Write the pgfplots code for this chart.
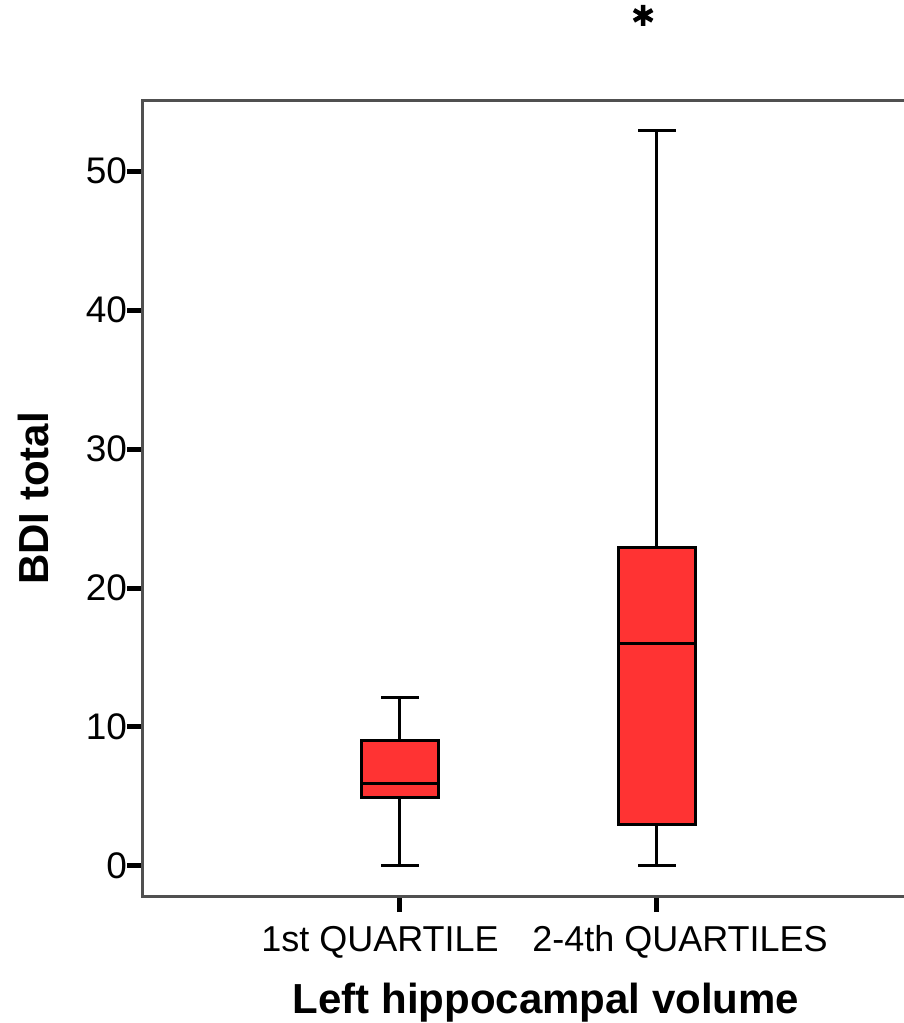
\documentclass[border=0pt]{standalone}
\usepackage{pgfplots}
\pgfplotsset{compat=1.18}
\usepgfplotslibrary{statistics}
\usepackage{fontspec}
\setmainfont{Liberation Sans}
\definecolor{boxred}{RGB}{255,51,51}
\definecolor{framegray}{RGB}{80,80,80}
\begin{document}
\begin{tikzpicture}
\begin{axis}[
  at={(0,0)}, anchor=south west,
  scale only axis,
  width=385.5pt, height=397.5pt,
  xmin=0, xmax=3,
  ymin=-2.16, ymax=55.04,
  clip=false,
  boxplot/draw direction=y,
  boxplot/every box/.style={draw=black, line width=1.5pt, fill=boxred},
  boxplot/every whisker/.style={draw=black, line width=1.5pt},
  boxplot/every median/.style={draw=black, line width=1.5pt},
  axis line style={draw=framegray, line width=1.5pt},
  tick align=outside,
  xtick pos=bottom, ytick pos=left,
  major tick length=8pt,
  tick style={black, line width=2.5pt},
  xtick={1,2},
  xticklabels={{\hspace*{-20pt}1st QUARTILE},{\hspace*{23pt}2-4th QUARTILES}},
  ytick={0,10,20,30,40,50},
  /pgf/number format/assume math mode=true,
  xticklabel style={anchor=base, yshift=-19.5pt, font=\fontsize{18}{20}\selectfont},
  yticklabel style={anchor=east, xshift=3.5pt, font=\fontsize{18.5}{20}\selectfont},
  xlabel={Left hippocampal volume},
  ylabel={BDI total},
  xlabel style={at={(axis description cs:0.5227,-0.1472)}, anchor=base, font=\fontsize{21}{24}\selectfont\bfseries},
  ylabel style={at={(axis description cs:-0.1232,0.5)}, anchor=base, font=\fontsize{21}{24}\selectfont\bfseries},
]
\addplot[boxplot prepared={median=5.97, lower quartile=4.96, upper quartile=9.06, lower whisker=0, upper whisker=12.09, draw position=1, box extend=0.296, whisker extend=0.144}] coordinates {};
\addplot[boxplot prepared={median=16.04, lower quartile=2.95, upper quartile=22.95, lower whisker=0, upper whisker=52.95, draw position=2, box extend=0.303, whisker extend=0.144}] coordinates {};
\addplot[only marks, mark=asterisk, mark size=5.3pt, line width=2.2pt, black] coordinates {(1.946,61.2)};
\end{axis}
\pgfresetboundingbox
\useasboundingbox (-71.5pt,-63.5pt) rectangle (380.5pt,448pt);
\end{tikzpicture}
\end{document}
